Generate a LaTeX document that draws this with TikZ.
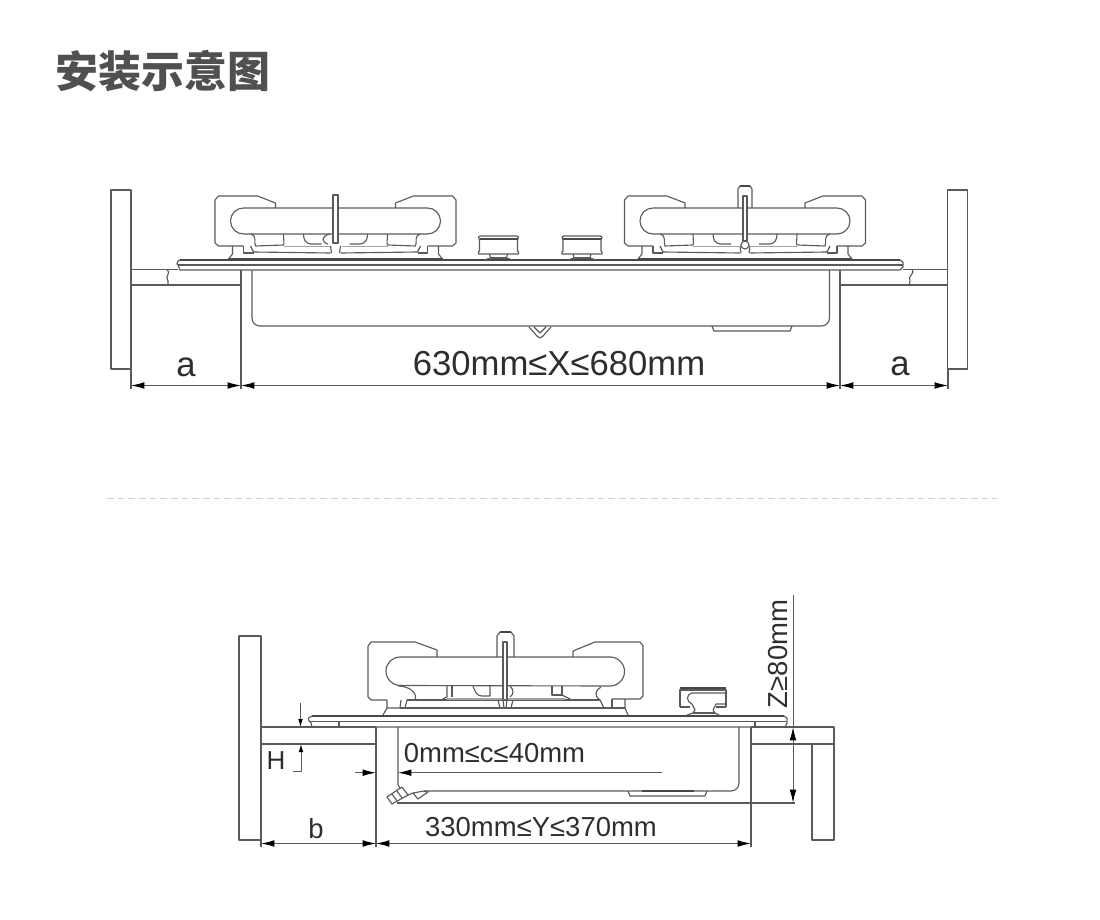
\documentclass[tikz,border=0pt]{standalone}
\usepackage{fontspec}
\usepackage{xcolor}
\usetikzlibrary{arrows.meta}
\setmainfont{Liberation Sans}
\newfontfamily\cjk{Noto Sans CJK SC}
\definecolor{inkgray}{HTML}{5A5A5A}
\definecolor{titlegray}{HTML}{505050}
\tikzset{plan/.style={x=.75pt, y=-.75pt, line join=round},
part/.style={draw=inkgray, line width=.85pt},
heavy/.style={draw=inkgray!80!black, line width=1.5pt},
band/.style={draw=inkgray!55, line width=1.4pt},
dim/.style={draw=inkgray, line width=.75pt},
dimboth/.style={dim, {Latex[length=10pt,width=5pt,black]}-{Latex[length=10pt,width=5pt,black]}},
dimto/.style={dim, -{Latex[length=10pt,width=5pt,black]}},
label/.style={inner sep=0pt, text=black!82, font=\fontsize{20.6pt}{24pt}\selectfont},
biglabel/.style={label, font=\fontsize{26pt}{30pt}\selectfont},
burnerhalf/.pic={
	\draw[part] (0,-52) -- (92,-52) arc[start angle=-90, end angle=90, radius=13] -- (0,-26);
	\draw[part] (60,-52) -- (60,-57) -- (78,-64) -- (117,-64) -- (120.5,-60) -- (120.5,-17) -- (117,-14) -- (92,-14);
	\draw[part] (85,-26) .. controls (78,-24) and (82,-18) .. (80,-14) -- (52,-15)
		.. controls (51,-17) and (52,-20) .. (52,-26);
	\draw[part] (32,-26) .. controls (32,-20) and (30,-17) .. (25,-16) -- (14,-16);
	\draw[part] (85,-14) -- (82,-8) -- (5,-7);
	\draw[part] (107,-1) -- (103,-6) -- (103,-14);
	\draw[part] (92,-14) -- (92,-7) -- (82,-7);
	\draw[band] (52,-13.5) -- (6,-13.5);
	\draw[heavy] (107,-.5) -- (0,-.5);
	\draw[part] (5,-14) -- (4,-7);
},
knobhalf/.pic={
	\draw[part] (0,-24) -- (18,-24) -- (20,-23) -- (19,-20) -- (19,-9) -- (20,-8) -- (20,-6) -- (0,-6);
	\draw[heavy] (0,-21) -- (19,-21);
	\draw[part] (9,-6) -- (8,-2) -- (14,0);
	\draw[part] (0,-2) -- (8,-2);
},
wallpiece/.pic={
	\draw[part] (0,0) rectangle (20,179);
}}

\begin{document}
\begin{tikzpicture}[plan]
\useasboundingbox (0,0) rectangle (1100,920);
\node[inner sep=0pt, anchor=west, text=titlegray, font=\cjk\bfseries\fontsize{32.2pt}{36pt}\selectfont] (title) at (55,71) {安装示意图};
\draw[draw=black!18, line width=1pt, dash pattern=on 5pt off 3pt] (107,498.5) -- (997,498.5);

\pic at (111,190) {wallpiece};
\pic at (947.5,190) {wallpiece};
\draw[part] (131,269.5) -- (178,269.5);
\draw[part] (903,269.5) -- (947.5,269.5);
\draw[part] (131,285) -- (241,285);
\draw[part] (840,285) -- (947.5,285);
\draw[part] (167,269.5) .. controls (172,273) and (164,276) .. (168,281) -- (168,286);
\draw[part] (912,269.5) .. controls (916,273) and (907,276) .. (910,281) -- (909,286);
\draw[heavy] (180,260) -- (900,260);
\draw[part] (180,260) -- (178,261) -- (177,264) -- (178,265) -- (180,270) -- (900,270);
\draw[part] (178,265) -- (903,265);
\draw[part] (900,260) -- (903,262) -- (903,267) -- (900,270);
\draw[part] (252,270) -- (252,318) arc[start angle=180, end angle=90, radius=8] -- (821.5,326) arc[start angle=90, end angle=0, radius=8] -- (829.5,270);
\draw[part] (712,326) -- (714,331) -- (790,331) -- (792,326);
\draw[part] (529,327) -- (537,336) -- (540,338) -- (543,336) -- (551,327);
\draw[part] (534,327) -- (540,333) -- (546,327);

\foreach \s in {1,-1} {
	\pic[xscale=\s] at (335.5,260) {burnerhalf};
	\pic[xscale=\s] at (745,260) {burnerhalf};
	\pic[xscale=\s] at (498.5,260) {knobhalf};
	\pic[xscale=\s] at (582,260) {knobhalf};
}
\draw[part, fill=white] (333,195) -- (338,195) -- (338,243) -- (333,243) -- cycle;
\draw[part] (738,208) -- (738,189) -- (740,186) -- (750,186) -- (752,189) -- (752,208);
\draw[heavy] (740,186) -- (750,186);
\draw[part, fill=white] (743,196) -- (747,196) -- (747,241) -- (743,241) -- cycle;
\draw[part] (745,245) circle[radius=4];
\draw[part] (330,234) .. controls (321,236) and (321,242) .. (328,244);

\coordinate (dimLa) at (131,385.5);
\coordinate (dimLb) at (241,385.5);
\coordinate (dimRa) at (840,385.5);
\coordinate (dimRb) at (948,385.5);
\draw[part] (131,369) -- (131,389);
\draw[part] (241,269.5) -- (241,389);
\draw[part] (840,269.5) -- (840,389);
\draw[part] (948,369) -- (948,389);
\draw[dimboth] (dimLa) -- (dimLb);
\draw[dimboth] (dimLb) -- (dimRa);
\draw[dimboth] (dimRa) -- (dimRb);
\node[biglabel] (sideA) at (186,367) {a};
\node[biglabel] (sideB) at (900,366) {a};
\node[biglabel] (widthX) at (559,364) {630mm≤X≤680mm};

\draw[part] (239,636) rectangle (261,840);
\draw[part] (261,727) -- (376,727);
\draw[part] (261,744) -- (376,744);
\draw[part] (261,840) -- (261,847);
\draw[part] (376,727) -- (376,847);
\draw[part] (751,727) -- (751,847);
\draw[part] (751,727) -- (834,727) -- (834,840) -- (812,840) -- (812,744);
\draw[part] (751,744) -- (834,744);
\draw[part] (755,727) -- (755,722);
\draw[heavy] (312,716) -- (784,716);
\draw[part] (312,716) -- (308.5,718) -- (308.5,720) -- (311,723) -- (312,727) -- (785,727);
\draw[part] (310,721.5) -- (786,721.5);
\draw[part] (784,716) -- (787,718) -- (787,723) -- (785,727);
\draw[part] (339,722) -- (339,727);
\draw[part] (398,727) -- (398,785) -- (400,788);
\draw[part] (739,727) -- (739,783) arc[start angle=0, end angle=90, radius=8] -- (424,791);
\draw[part] (397,803) -- (795,803);
\draw[part] (628,791) -- (630,796) -- (705,796) -- (707,791);
\draw[heavy] (642,791) -- (694,791);
\draw[part] (387,797) -- (392,804) -- (408,795) -- (402,787) -- cycle;
\draw[part] (392,794) -- (397,801);
\draw[part] (397,791) -- (402,798);
\draw[part] (408,795) -- (413,793) -- (418,799) -- (428,792) -- (424,791) -- (413,793);

\draw[part] (368,646) -- (371,642) -- (415,642) -- (437,650) -- (437,657);
\draw[part] (368,646) -- (368,697) -- (371,700) -- (387,700);
\draw[part] (610,657) -- (400,657) arc[start angle=270, end angle=180, radius=14] arc[start angle=180, end angle=90, radius=14.5] -- (610,686);
\draw[part] (610,657) arc[start angle=-90, end angle=90, radius=14.5];
\draw[part] (398,686) .. controls (408,686) and (418,692) .. (415,700) -- (407,700) -- (405,708);
\draw[part] (387,700) -- (387,708) -- (400,708) -- (401,700);
\draw[part] (387,708) -- (383,715);
\draw[part] (400,708) -- (625,708);
\draw[part] (573,657) -- (573,651) -- (595,642) -- (640,642) -- (643,646) -- (643,696) -- (640,699) -- (612,699);
\draw[part] (601,687) .. controls (595,690) and (594,696) .. (600,700) -- (604,708);
\draw[part] (612,699) -- (612,708);
\draw[part] (625,699) -- (625,708) -- (628,715);
\draw[part] (407,700) -- (600,700);
\draw[band] (447,699) -- (565,699);
\draw[part] (447,686) -- (447,697) -- (441,700);
\draw[part] (452,686) -- (452,697);
\draw[part] (473,686) .. controls (475,692) and (477,696) .. (482,696) -- (490,696) -- (490,686);
\draw[part] (510,686) .. controls (514,690) and (514,694) .. (510,697);
\draw[part] (552,686) -- (552,695) -- (562,695) -- (562,686);
\draw[part] (562,695) -- (570,699);
\draw[part] (497,657) -- (497,636) -- (500,632) -- (511,632) -- (514,636) -- (514,657);
\draw[heavy] (500,632) -- (511,632);
\draw[part, fill=white] (503,642) -- (507,642) -- (507,700) -- (503,700) -- cycle;
\draw[part] (498,700) -- (500,708);
\draw[part] (513,700) -- (511,708);
\draw[part] (503,700) -- (504,708);
\draw[part] (507,700) -- (506,708);

\draw[part] (680,707) -- (680,690) -- (726,690) -- (726,707);
\draw[heavy] (680,688) -- (726,688);
\draw[part] (680,707) -- (690,707);
\draw[part] (726,707) -- (716,707);
\draw[part] (726,693) -- (692,693) .. controls (686,694) and (686,702) .. (692,704) -- (695,710) -- (693,713) -- (687,715);
\draw[part] (726,704) -- (716,704) -- (713,710) -- (715,713) -- (719,715);
\draw[part] (693,713) -- (715,713);

\coordinate (depthA) at (261,843.5);
\coordinate (depthB) at (376,843.5);
\coordinate (depthC) at (751,843.5);
\coordinate (gapA) at (355,772.7);
\coordinate (gapB) at (376,772.7);
\coordinate (gapC) at (662,772.7);
\coordinate (gapD) at (398,772.7);
\coordinate (thickA) at (300.5,703);
\coordinate (thickB) at (300.5,727);
\coordinate (thickC) at (293,771);
\coordinate (thickD) at (301,771);
\coordinate (thickE) at (301,744);
\coordinate (clearA) at (793,595);
\coordinate (clearB) at (793,727);
\coordinate (clearC) at (793,803);
\draw[dimboth] (depthA) -- (depthB);
\draw[dimboth] (depthB) -- (depthC);
\draw[dimto] (gapA) -- (gapB);
\draw[dimto] (gapC) -- (gapD);
\draw[dim, -{Latex[length=6pt,width=3.5pt,black]}] (thickA) -- (thickB);
\draw[dim, -{Latex[length=6pt,width=3.5pt,black]}] (thickC) -- (thickD) -- (thickE);
\draw[dim] (clearA) -- (clearB);
\draw[dimboth] (clearB) -- (clearC);
\node[label] (gapText) at (494.5,753) {0mm≤c≤40mm};
\node[label] (depthY) at (541,827) {330mm≤Y≤370mm};
\node[label, rotate=90] (clearZ) at (778.5,654) {Z≥80mm};
\node[label, font=\fontsize{19.5pt}{24pt}\selectfont] (thickH) at (276,761) {H};
\node[label] (sideBb) at (316,829) {b};
\end{tikzpicture}
\end{document}
